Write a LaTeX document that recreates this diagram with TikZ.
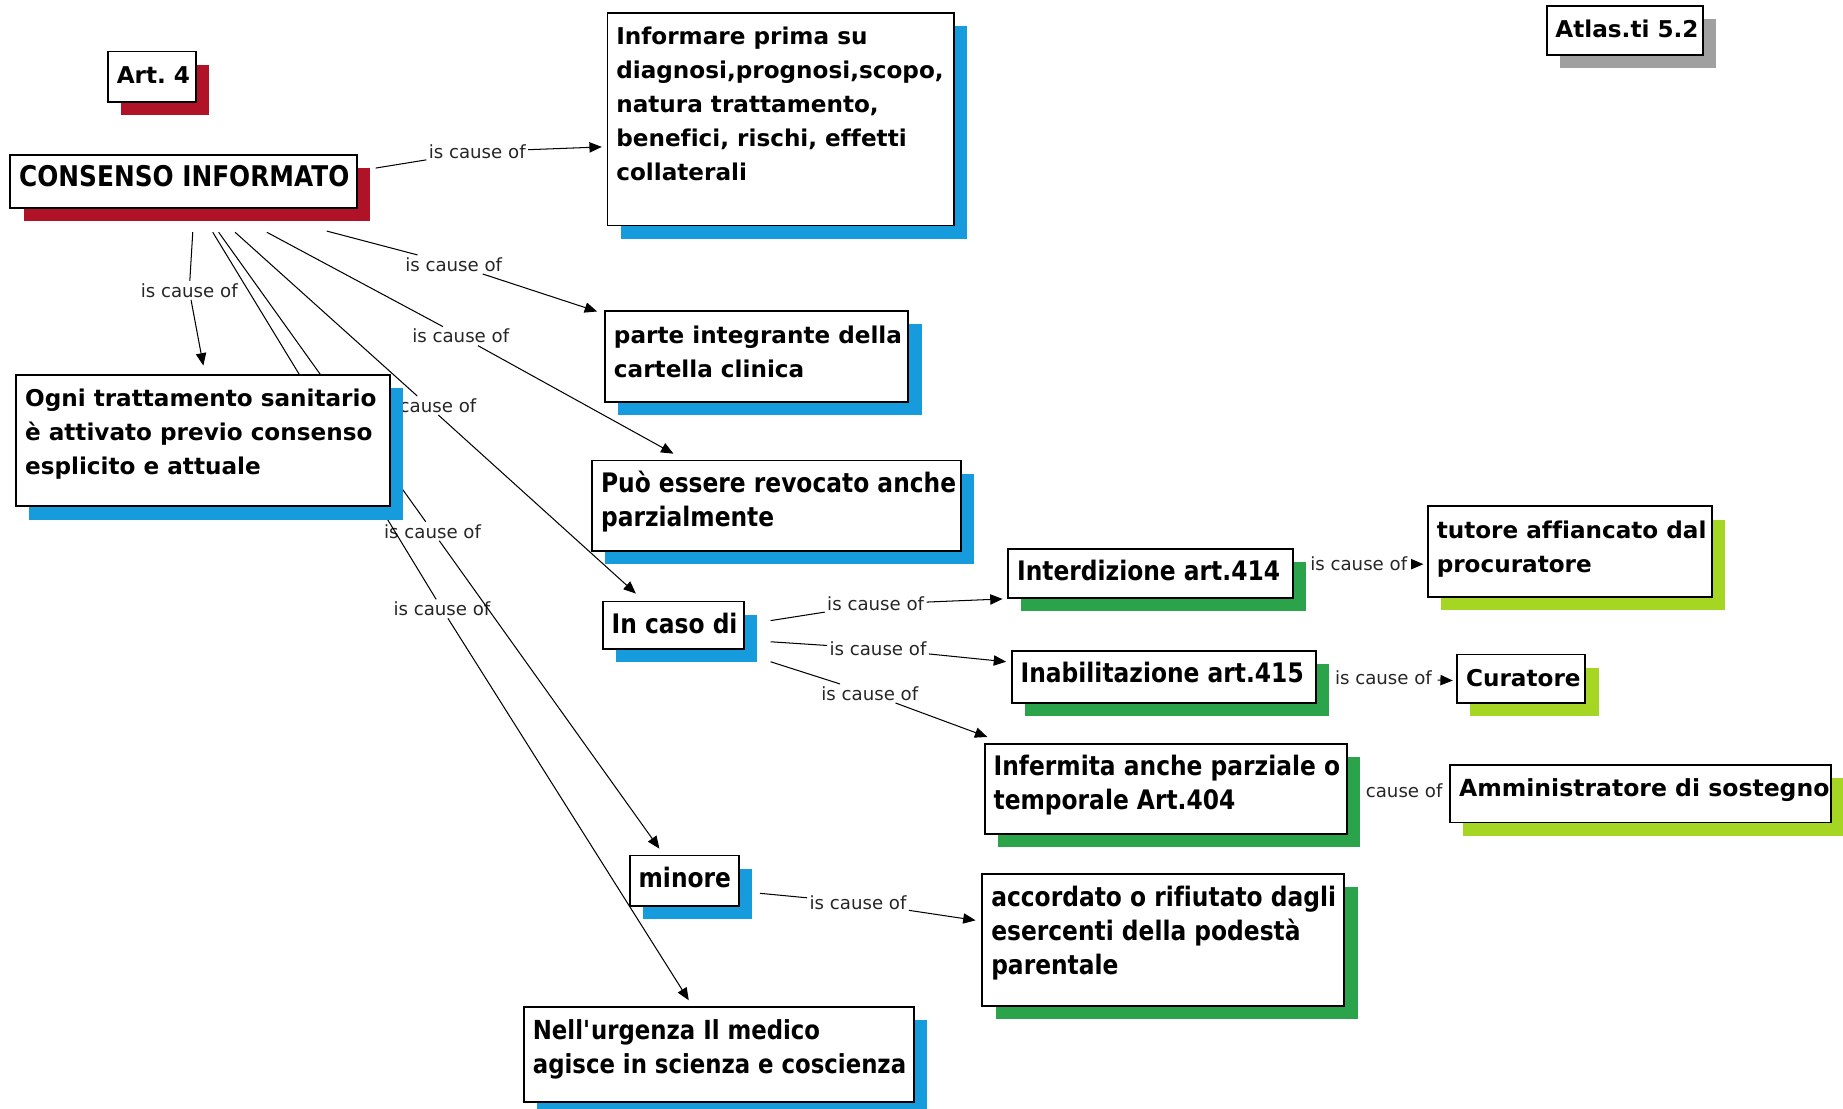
\documentclass[tikz,border=0pt]{standalone}
\usepackage{fontspec}
\setmainfont{DejaVu Sans}[Ligatures={TeX,NoCommon}]
\newfontfamily\condfam{DejaVu Sans}[FakeStretch=0.87,Ligatures={TeX,NoCommon}]
\usetikzlibrary{arrows.meta,calc}
\pgfdeclarelayer{bg}
\pgfsetlayers{bg,main}
\frenchspacing
\definecolor{shred}{RGB}{176,18,40}
\definecolor{shblue}{RGB}{22,155,220}
\definecolor{shgreen}{RGB}{43,163,74}
\definecolor{shlime}{RGB}{166,214,36}
\definecolor{shgray}{RGB}{160,160,160}
\newcommand{\boxfontN}[1]{\normalfont\fontsize{#1}{16.5}\selectfont\bfseries}
\newcommand{\boxfontC}[1]{\condfam\fontsize{#1}{16.5}\selectfont\bfseries}
\newcommand{\lblfont}{\normalfont\fontsize{8.8}{10}\selectfont}
\tikzset{
  conceptbox/.style={draw=black, line width=0.9pt, fill=white, inner sep=0pt, anchor=north west},
  boxtext/.style={anchor=base west, inner sep=0pt},
  relabel/.style={inner sep=1pt, font=\lblfont, text=black!85},
  sidelabel/.style={relabel, inner xsep=2.6pt},
  relation/.style={line width=0.5pt, draw=black, -{Triangle[length=6pt,width=5pt]}},
}
% name, x, y, w, h, shadow colour, font, text
\newcommand{\conceptbox}[8]{%
  \fill[#6] (#2+12,#3+12) rectangle ++(#4,#5);
  \node[conceptbox, minimum width=#4*0.02cm, minimum height=#5*0.02cm] (#1) at (#2,#3) {};
  \node[boxtext, font=#7] (#1-t) at (#2+8,#3+28) {\begin{tabular}[t]{@{}l@{}}#8\end{tabular}};
}
\begin{document}
\begin{tikzpicture}[x=0.02cm,y=-0.02cm]
\useasboundingbox (0,0) rectangle (1568,943);

\conceptbox{art}{91}{43}{75}{43}{shred}{\boxfontN{11.2}}{Art. 4}
\conceptbox{cons}{8}{131}{295}{45}{shred}{\boxfontC{13.8}}{CONSENSO INFORMATO}
\conceptbox{info}{516}{10}{295}{181}{shblue}{\boxfontN{11.2}}{Informare prima su\\diagnosi,prognosi,scopo,\\natura trattamento,\\benefici, rischi, effetti\\collaterali}
\conceptbox{parte}{514}{264}{258}{77}{shblue}{\boxfontN{11.2}}{parte integrante della\\cartella clinica}
\conceptbox{ogni}{13}{318}{318}{112}{shblue}{\boxfontN{11.2}}{Ogni trattamento sanitario\\è attivato previo consenso\\esplicito e attuale}
\conceptbox{puo}{503}{391}{314}{77}{shblue}{\boxfontC{13}}{Può essere revocato anche\\parzialmente}
\conceptbox{incaso}{512}{511}{120}{40}{shblue}{\boxfontC{13}}{In caso di}
\conceptbox{inter}{857}{466}{242}{42}{shgreen}{\boxfontC{13}}{Interdizione art.414}
\conceptbox{inab}{860}{553}{259}{44}{shgreen}{\boxfontC{13}}{Inabilitazione art.415}
\conceptbox{inferm}{837}{632}{308}{77}{shgreen}{\boxfontC{13}}{Infermita anche parziale o\\temporale Art.404}
\conceptbox{tutore}{1214}{430}{242}{77}{shlime}{\boxfontN{11.2}}{tutore affiancato dal\\procuratore}
\conceptbox{curat}{1239}{556}{109}{41}{shlime}{\boxfontN{11.2}}{Curatore}
\conceptbox{ammin}{1233}{650}{324}{49}{shlime}{\boxfontN{11.4}}{Amministratore di sostegno}
\conceptbox{minore}{535}{727}{93}{43}{shblue}{\boxfontC{13}}{minore}
\conceptbox{accord}{835}{743}{308}{112}{shgreen}{\boxfontC{13}}{accordato o rifiutato dagli\\esercenti della podestà\\parentale}
\conceptbox{nell}{445}{856}{332}{81}{shblue}{\boxfontC{12.7}}{Nell\textquotesingle urgenza Il medico\\agisce in scienza e coscienza}
\conceptbox{atlas}{1315}{4}{133}{42}{shgray}{\boxfontN{11.2}}{Atlas.ti 5.2}

\begin{pgfonlayer}{bg}
\fill[white] (0,0) rectangle (1568,943);
\node[relabel] (l-info) at (406,129) {is cause of};
\node[relabel] (l-ogni) at (161,247) {is cause of};
\node[relabel] (l-parte) at (386,225) {is cause of};
\node[relabel] (l-puo) at (392,286) {is cause of};
\node[relabel] (l-incaso) at (364,345) {is cause of};
\node[relabel] (l-minore) at (368,452) {is cause of};
\node[relabel] (l-nell) at (376,518) {is cause of};
\node[relabel] (l-inter) at (745,514) {is cause of};
\node[relabel] (l-inab) at (747,552) {is cause of};
\node[relabel] (l-inferm) at (740,590) {is cause of};
\node[sidelabel] (l-tutore) at (1156,480) {is cause of};
\node[sidelabel] (l-curat) at (1177,577) {is cause of};
\node[relabel, inner xsep=5pt] (l-ammin) at (1186,673) {is cause of};
\node[relabel] (l-accord) at (730,768) {is cause of};

\draw[relation] ($(cons.north east)+(15,12)$) -- (l-info) -- ($(info.north west)+(-4,115)$);
\draw[relation] ($(cons.south west)+(156,20)$) -- (l-ogni) -- ($(ogni.north west)+(160,-7)$);
\draw[relation] ($(cons.south west)+(270,19)$) -- (l-parte) -- ($(parte.north west)+(-6,1)$);
\draw[relation] ($(cons.south west)+(219,20)$) -- (l-puo) -- ($(puo.north west)+(70,-5)$);
\draw[relation] ($(cons.south west)+(192,20)$) -- (l-incaso) -- ($(incaso.north west)+(29,-6)$);
\draw[relation] ($(cons.south west)+(178,20)$) -- (l-minore) -- ($(minore.north west)+(26,-5)$);
\draw[relation] ($(cons.south west)+(173,20)$) -- (l-nell) -- ($(nell.north west)+(141,-5)$);
\draw[relation] ($(incaso.north east)+(22,17)$) -- (l-inter) -- ($(inter.south west)+(-4,0)$);
\draw[relation] ($(incaso.north east)+(22,35)$) -- (l-inab) -- ($(inab.north west)+(-4,10)$);
\draw[relation] ($(incaso.north east)+(22,52)$) -- (l-inferm) -- ($(inferm.north west)+(3,-5)$);
\draw[relation] (inter.east) -- (l-tutore) -- ($(tutore.north west)+(-3,50)$);
\draw[relation] (inab.east) -- (l-curat) -- ($(curat.north west)+(-3,23)$);
\draw[relation] (inferm.east) -- (l-ammin) -- ($(ammin.west)+(16,0)$);
\draw[relation] ($(minore.north east)+(17,33)$) -- (l-accord) -- ($(accord.north west)+(-5,40)$);
\end{pgfonlayer}
\end{tikzpicture}
\end{document}
